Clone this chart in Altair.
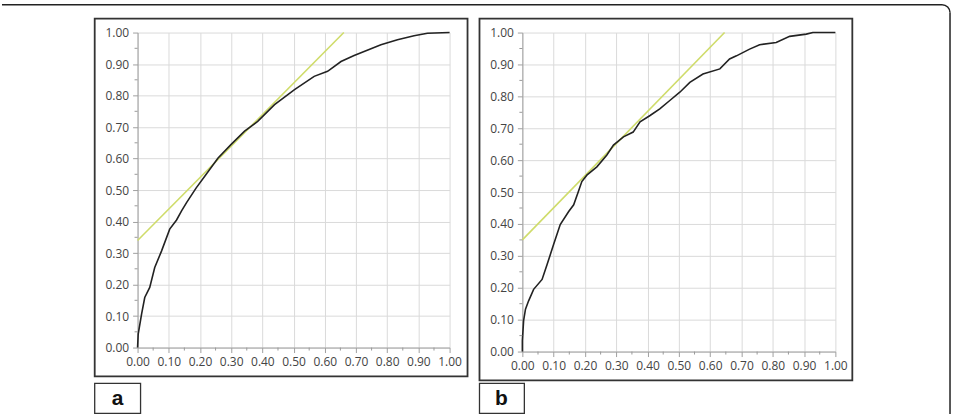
import altair as alt
import pandas as pd

# ---------------- data ----------------
a_fpr = [0.0, 0.002, 0.013, 0.023, 0.039, 0.055, 0.077, 0.103, 0.125, 0.141, 0.157, 0.188,
         0.220, 0.258, 0.300, 0.343, 0.385, 0.439, 0.503, 0.566, 0.609, 0.652, 0.694,
         0.726, 0.780, 0.833, 0.886, 0.929, 1.0]
a_tpr = [0.0, 0.043, 0.107, 0.159, 0.191, 0.254, 0.307, 0.376, 0.405, 0.434, 0.460, 0.507,
         0.550, 0.602, 0.645, 0.687, 0.718, 0.771, 0.819, 0.861, 0.877, 0.908, 0.927,
         0.940, 0.961, 0.977, 0.990, 0.998, 1.0]

b_fpr = [0.0, 0.0, 0.004, 0.010, 0.020, 0.036, 0.063, 0.079, 0.100, 0.121, 0.148, 0.164,
         0.179, 0.190, 0.206, 0.238, 0.270, 0.291, 0.323, 0.354, 0.376, 0.408, 0.439,
         0.471, 0.503, 0.535, 0.577, 0.631, 0.662, 0.684, 0.726, 0.758, 0.811, 0.854,
         0.907, 0.928, 1.0]
b_tpr = [0.0, 0.034, 0.097, 0.133, 0.159, 0.195, 0.226, 0.273, 0.336, 0.398, 0.439, 0.460,
         0.502, 0.533, 0.553, 0.579, 0.616, 0.647, 0.673, 0.688, 0.720, 0.740, 0.761,
         0.787, 0.813, 0.844, 0.870, 0.886, 0.917, 0.927, 0.948, 0.962, 0.969, 0.988,
         0.995, 1.0, 1.0]

a_tan_x = [0.0, 0.661]
a_tan_y = [0.34, 1.0]
b_tan_x = [0.0, 0.646]
b_tan_y = [0.35, 1.0]

major_ticks = [0.0, 0.1, 0.2, 0.3, 0.4, 0.5, 0.6, 0.7, 0.8, 0.9, 1.0]
minor_ticks = [0.05, 0.15, 0.25, 0.35, 0.45, 0.55, 0.65, 0.75, 0.85, 0.95]
panel_labels = ["a", "b"]

CURVE = "#222222"
TANGENT = "#cfdc6a"
one = alt.Data(values=[{}])


def panel(fx, fy, tx, ty, w, h, label, lab_x2, lab_tx, frame=False):
    xs = alt.Scale(domain=[0, 1], nice=False)
    ys = alt.Scale(domain=[0, 1], nice=False)
    xax = alt.Axis(values=major_ticks, format=".2f", title=None, tickSize=5,
                   labelPadding=4, grid=True, labelOverlap=False, labelFlush=False,
                   labelBound=False)
    yax = alt.Axis(values=major_ticks, format=".2f", title=None, tickSize=5,
                   labelPadding=4, grid=True, labelOverlap=False, labelFlush=False,
                   labelBound=False)

    layers = []
    # full-canvas invisible rect (fixes the layout bounds) + frame pieces
    if frame:
        layers.append(alt.Chart(one).mark_rect(fill="white", opacity=0).encode(
            x=alt.value(-136), x2=alt.value(819), y=alt.value(-31), y2=alt.value(383)))
        layers.append(alt.Chart(one).mark_rule(color="#222", strokeWidth=1.5).encode(
            x=alt.value(-136), x2=alt.value(807), y=alt.value(-28)))
        layers.append(alt.Chart(one).mark_rule(color="#222", strokeWidth=1.5).encode(
            x=alt.value(815), y=alt.value(-20), y2=alt.value(383)))
        layers.append(alt.Chart(one).mark_arc(
            theta=0, theta2=1.5708, radius=8, radius2=8, fill="transparent",
            stroke="#222", strokeWidth=1.5).encode(x=alt.value(807), y=alt.value(-20)))

    # panel box
    layers.append(alt.Chart(one).mark_rect(fill="transparent", stroke="#333",
                                           strokeWidth=1.8).encode(
        x=alt.value(-43), x2=alt.value(331), y=alt.value(-14), y2=alt.value(h + 29)))
    # label box + text
    layers.append(alt.Chart(one).mark_rect(fill="transparent", stroke="#333",
                                           strokeWidth=1.3).encode(
        x=alt.value(-43), x2=alt.value(lab_x2), y=alt.value(352), y2=alt.value(382)))
    layers.append(alt.Chart(alt.Data(values=[{"t": label}])).mark_text(
        font="Liberation Sans", fontWeight="bold", fontSize=21, color="#111",
        align="center", baseline="middle").encode(
        x=alt.value(lab_tx), y=alt.value(368), text="t:N"))

    # tangent line
    tdf = pd.DataFrame({"x": tx, "y": ty})
    layers.append(alt.Chart(tdf).mark_line(color=TANGENT, strokeWidth=1.6).encode(
        x=alt.X("x:Q", scale=xs, axis=xax), y=alt.Y("y:Q", scale=ys, axis=yax)))

    # curve
    cdf = pd.DataFrame({"x": fx, "y": fy, "o": list(range(len(fx)))})
    layers.append(alt.Chart(cdf).mark_line(color=CURVE, strokeWidth=1.6,
                                           interpolate="linear").encode(
        x=alt.X("x:Q", scale=xs, axis=xax), y=alt.Y("y:Q", scale=ys, axis=yax),
        order="o:Q"))

    # minor ticks
    mt = pd.DataFrame({"v": minor_ticks})
    layers.append(alt.Chart(mt).mark_rule(color="#9a9a9a").encode(
        x=alt.X("v:Q", scale=xs, axis=xax), y=alt.value(h), y2=alt.value(h + 3)))
    layers.append(alt.Chart(mt).mark_rule(color="#9a9a9a").encode(
        y=alt.Y("v:Q", scale=ys, axis=yax), x=alt.value(0), x2=alt.value(-3)))

    return alt.layer(*layers).properties(width=w, height=h)


pa = panel(a_fpr, a_tpr, a_tan_x, a_tan_y, 313, 316, panel_labels[0], 3, -20, frame=True)
pb = panel(b_fpr, b_tpr, b_tan_x, b_tan_y, 314, 320, panel_labels[1], 2, -21)

chart = alt.hconcat(pa, pb, spacing=73, bounds="flush").properties(
    padding=0, background="white"
).configure_view(stroke="transparent").configure_axis(
    domainColor="#a0a0a0", tickColor="#a0a0a0", gridColor="#dadada",
    labelColor="#444444", labelFont="Open Sans", labelFontSize=12,
    domainWidth=1, gridWidth=1
)

chart.save("out.html", embed_options={"renderer": "svg", "actions": False})
